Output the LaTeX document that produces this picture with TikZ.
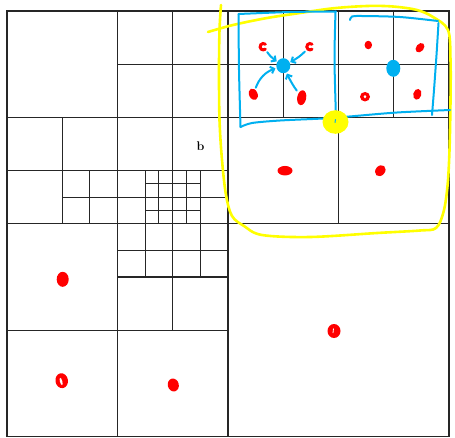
\documentclass[tikz,border=0pt]{standalone}
\usetikzlibrary{arrows.meta,shapes.geometric}
\definecolor{skyb}{HTML}{00B0F0}
\definecolor{hlyel}{HTML}{FFFF00}
\definecolor{pen}{HTML}{FF0000}
\begin{document}
\begin{tikzpicture}[x=1pt,y=-1pt,
  gridline/.style={draw=black!85, line width=1.1pt},
  reddot/.style={ellipse, fill=pen, inner sep=0pt},
  cdot/.style={circle, inner sep=0pt, minimum size=9pt},
  bluedot/.style={ellipse, fill=skyb, inner sep=0pt},
  bluepen/.style={draw=skyb, line width=2pt, line cap=round, line join=round},
  barrow/.style={bluepen, -{Straight Barb[length=3.5pt,width=7pt]}},
  hlpen/.style={draw=hlyel, line width=2.6pt, line cap=round, line join=round}]
\useasboundingbox (0,0) rectangle (455,437);
\fill[white] (0,0) rectangle (455,437);

% quadtree grid
\begin{scope}[shift={(7,11)}, x=27.625pt, y=-26.6pt]
  \draw[gridline] (0,0) rectangle (16,16);
  \draw[gridline]
    (8,0)--(8,16) (0,8)--(16,8)
    (4,0)--(4,16) (0,4)--(16,4)
    (6,0)--(6,12) (4,2)--(16,2)
    (10,0)--(10,4) (14,0)--(14,4) (12,0)--(12,8)
    (2,4)--(2,8) (0,6)--(8,6)
    (3,6)--(3,8) (2,7)--(8,7)
    (5,6)--(5,10) (7,6)--(7,10)
    (5.5,6)--(5.5,8) (6.5,6)--(6.5,8)
    (5,6.5)--(7,6.5) (5,7.5)--(7,7.5)
    (4,9)--(8,9) (4,10)--(8,10) (0,12)--(8,12);
\end{scope}

\node[inner sep=0pt, font=\fontsize{12.5}{14}\selectfont\bfseries] (blabel) at (200.5,146.3) {b};

% yellow outline
\draw[hlpen] plot[smooth, tension=0.55] coordinates {
  (208,32) (233,25) (267,18) (300,13) (333,8.3) (367,6) (393,6.5) (417,10) (433,17)
  (448,30) (450.5,60) (450.5,100) (449.5,150) (447.5,186) (443.5,212) (436,228)
  (420,230.5) (377,233) (310,237) (262,235) (244,226) (232,216) (226,195)
  (222,160) (219.5,120) (219,70) (219.5,30) (221,5)};

% blue boxes
\draw[bluepen] plot[smooth, tension=0.5] coordinates {(336,11.5) (290,12) (238.5,14)};
\draw[bluepen] plot[smooth, tension=0.5] coordinates {(238.5,14) (239,70) (240.5,127)};
\draw[bluepen] plot[smooth, tension=0.5] coordinates {(240.5,127) (252,123) (280,120.5) (323,118.5) (347,116.7) (397,112.5) (450,110)};
\draw[bluepen] plot[smooth, tension=0.5] coordinates {(335.5,11.5) (334.5,60) (336,118)};
\draw[bluepen] plot[smooth, tension=0.5] coordinates {(350,20) (352,16.5) (362,16) (400,17) (438,21)};
\draw[bluepen] plot[smooth, tension=0.5] coordinates {(438.5,23) (436.5,55) (434,90) (432,115)};

% red dots
\node[cdot] (r1) at (263.3,46.7) {};
\node[cdot] (r2) at (310,46.7) {};
\draw[pen, line width=3pt, line cap=round] ([shift={(50:3.2pt)}]r1.center) arc (50:310:3.2pt);
\draw[pen, line width=3pt, line cap=round] ([shift={(50:3.2pt)}]r2.center) arc (50:310:3.2pt);
\node[reddot, minimum width=8.5pt, minimum height=12pt, rotate=25] (r3) at (253.3,94.3) {};
\node[reddot, minimum width=9pt, minimum height=15pt, rotate=-10] (r4) at (301.7,97.7) {};
\node[reddot, minimum width=7.5pt, minimum height=8.5pt] (r5) at (368.3,45) {};
\node[reddot, minimum width=7.5pt, minimum height=10.5pt, rotate=-40] (r6) at (420,47.7) {};
\node[reddot, minimum width=10pt, minimum height=9.5pt] (r7) at (365,96.7) {};
\fill[white] (r7.center) ellipse (1.4pt and 1.7pt);
\node[reddot, minimum width=8pt, minimum height=11pt, rotate=-15] (r8) at (417.3,94.3) {};
\node[reddot, minimum width=15pt, minimum height=9.5pt] (r9) at (285,170.7) {};
\node[reddot, minimum width=9.5pt, minimum height=12pt, rotate=-40] (r10) at (380.3,170.7) {};
\node[reddot, minimum width=13pt, minimum height=14pt] (r11) at (334,331) {};
\draw[white, line width=0.8pt] (333.5,328.5) -- (333,333);
\node[reddot, minimum width=12pt, minimum height=15pt] (r12) at (62.7,279.3) {};
\node[reddot, minimum width=12.5pt, minimum height=15pt, rotate=10] (r13) at (61.7,380.7) {};
\fill[white, rotate around={15:(61,381)}] (61,381.5) ellipse (1.2pt and 3.8pt);
\node[reddot, minimum width=11pt, minimum height=13pt, rotate=15] (r14) at (173.3,385) {};

% blue dots
\node[bluedot, minimum width=14pt, minimum height=15pt] (b1) at (283.3,65.7) {};
\node[bluedot, minimum width=14pt, minimum height=17pt] (b2) at (393.3,68.3) {};

% arrows towards b1
\draw[barrow, shorten <=2pt, shorten >=0.5pt] (r1) to[bend right=10] (b1);
\draw[barrow, shorten <=2.5pt, shorten >=0.5pt] (r2) to[bend left=8] (b1);
\draw[barrow, shorten <=2pt, shorten >=1pt] (r3) to[bend left=25] (b1);
\draw[barrow, shorten <=3pt, shorten >=1pt] (r4) to[bend left=5] (b1);

% yellow blob
\fill[hlyel] (335.5,122) ellipse (13pt and 11.8pt);
\draw[skyb, line width=1pt, line cap=round] (335.5,119.5) -- (335,122.5);
\end{tikzpicture}
\end{document}
